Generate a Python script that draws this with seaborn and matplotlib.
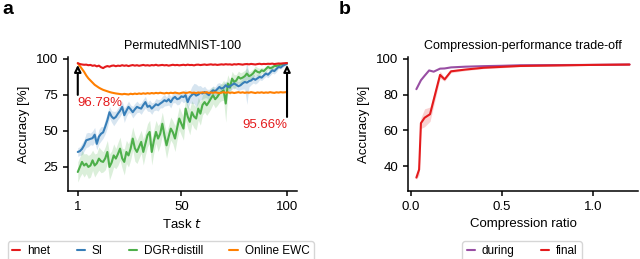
import numpy as np
import pandas as pd
import matplotlib.pyplot as plt
import seaborn as sns

sns.set_style('ticks')
plt.rcParams['font.family'] = ['Liberation Sans', 'DejaVu Sans']
plt.rcParams.update({'font.size': 9, 'axes.linewidth': 1.1,
                     'xtick.labelsize': 9.5, 'ytick.labelsize': 9.5,
                     'xtick.major.width': 1.1, 'ytick.major.width': 1.1,
                     'xtick.major.size': 3.5, 'ytick.major.size': 3.5,
                     'xtick.color': 'black', 'ytick.color': 'black',
                     'axes.edgecolor': 'black', 'text.color': 'black',
                     'axes.labelcolor': 'black'})

# --- panel a: PermutedMNIST-100 ---
tasks = np.arange(1, 101)

hnet = [97.0, 96.4, 96.1, 95.9, 96.0, 95.6, 95.8, 95.2, 95.5, 94.8,
        95.3, 94.2, 93.6, 94.5, 95.0, 94.6, 95.2, 95.4, 94.9, 95.3,
        95.1, 95.6, 95.2, 95.5, 95.0, 95.4, 95.7, 95.3, 95.6, 95.2,
        95.5, 95.8, 95.4, 95.6, 95.3, 95.7, 95.5, 95.9, 95.4, 95.6,
        95.8, 95.5, 95.7, 95.3, 95.6, 95.9, 95.6, 95.8, 95.5, 95.7,
        95.9, 95.6, 96.0, 95.7, 95.8, 95.5, 95.9, 96.0, 95.7, 95.9,
        96.1, 95.8, 96.0, 96.2, 95.9, 96.1, 95.8, 96.0, 96.2, 96.0,
        96.3, 96.1, 96.2, 95.9, 96.3, 96.1, 96.4, 96.2, 96.0, 96.3,
        96.4, 96.2, 96.5, 96.3, 96.1, 96.4, 96.6, 96.3, 96.5, 96.4,
        96.6, 96.5, 96.7, 96.4, 96.6, 96.8, 96.7, 96.9, 97.0, 97.1]

si = [35.4, 36.0, 37.5, 40.0, 43.5, 44.0, 44.5, 45.0, 47.4, 41.0,
      46.0, 48.0, 49.0, 53.0, 57.4, 63.0, 60.0, 58.6, 59.7, 62.0,
      64.0, 66.7, 60.9, 64.0, 66.7, 65.0, 63.0, 65.0, 66.7, 66.0,
      65.5, 68.0, 70.0, 66.7, 67.5, 65.5, 67.0, 68.5, 67.8, 69.0,
      70.0, 71.3, 70.5, 72.0, 70.0, 72.5, 73.6, 72.0, 72.5, 74.0,
      73.5, 74.8, 70.0, 73.5, 75.0, 76.0, 74.5, 75.2, 76.5, 76.0,
      77.0, 76.0, 74.8, 77.0, 78.2, 77.5, 79.0, 80.5, 79.4, 80.0,
      81.7, 80.5, 81.0, 82.0, 82.9, 82.0, 81.0, 81.7, 83.0, 84.0,
      83.5, 84.5, 85.0, 86.3, 85.5, 86.5, 87.5, 87.0, 88.5, 89.8,
      89.0, 90.5, 92.1, 91.5, 93.0, 94.4, 94.0, 95.2, 96.0, 96.7]

si_sd = [3, 3, 4, 4, 5, 5, 4, 5, 5, 4,
         5, 5, 4, 5, 5, 4, 4, 5, 4, 4,
         4, 4, 5, 4, 4, 3, 4, 4, 4, 3,
         4, 4, 4, 3, 4, 4, 3, 4, 4, 3,
         4, 4, 3, 4, 4, 3, 4, 4, 4, 3,
         4, 4, 5, 4, 6, 7, 8, 6, 5, 4,
         4, 3, 4, 3, 3, 3, 4, 3, 3, 3,
         3, 3, 3, 3, 3, 3, 3, 3, 4, 5,
         15, 4, 3, 3, 3, 3, 2, 2, 2, 2,
         2, 2, 2, 2, 2, 1, 1, 1, 1, 1]

dgr = [21.5, 25.0, 28.5, 26.0, 27.3, 25.0, 26.0, 29.6, 26.0, 27.5,
       30.8, 29.0, 28.5, 31.0, 35.4, 25.0, 28.0, 33.0, 30.8, 34.0,
       37.7, 31.0, 28.5, 35.4, 33.0, 37.7, 44.7, 38.0, 35.4, 39.0,
       42.4, 35.4, 41.2, 47.0, 49.3, 35.4, 43.0, 49.3, 44.7, 48.0,
       55.0, 47.0, 40.0, 46.0, 51.6, 49.0, 44.7, 52.0, 58.6, 55.0,
       51.6, 65.5, 60.0, 56.3, 63.0, 60.0, 58.6, 65.5, 62.0, 68.0,
       70.0, 67.8, 70.0, 72.5, 74.8, 72.0, 73.6, 75.9, 77.0, 78.2,
       69.0, 82.9, 80.0, 86.3, 84.0, 85.0, 87.5, 86.3, 87.0, 88.0,
       89.8, 88.0, 88.7, 90.0, 92.1, 91.0, 90.5, 92.1, 91.5, 93.0,
       94.4, 93.5, 94.0, 95.0, 95.1, 95.5, 96.0, 96.2, 96.5, 96.9]

dgr_sd = [7, 7, 8, 8, 7, 8, 8, 7, 8, 7,
          8, 8, 7, 8, 8, 9, 8, 8, 7, 8,
          8, 7, 9, 8, 8, 8, 8, 9, 8, 8,
          8, 9, 8, 8, 8, 9, 8, 8, 9, 8,
          8, 8, 9, 8, 8, 8, 9, 8, 8, 8,
          8, 8, 8, 9, 8, 8, 8, 8, 8, 7,
          7, 7, 7, 7, 6, 6, 6, 6, 6, 7,
          13, 6, 5, 5, 5, 4, 4, 4, 4, 4,
          4, 3, 3, 3, 3, 3, 3, 2, 2, 2,
          2, 2, 2, 2, 2, 1, 1, 1, 1, 1]

ewc = [97.0, 95.0, 93.0, 91.0, 88.5, 86.5, 85.0, 83.5, 82.0, 81.0,
       80.0, 79.2, 78.5, 78.0, 77.5, 77.0, 76.6, 76.3, 76.0, 75.8,
       75.6, 75.4, 75.7, 75.5, 75.3, 75.8, 75.5, 75.9, 75.6, 76.0,
       75.7, 76.1, 75.8, 76.2, 75.9, 76.3, 76.0, 76.4, 76.1, 76.5,
       76.2, 76.0, 76.4, 76.1, 76.5, 76.2, 76.6, 76.3, 76.0, 76.4,
       76.7, 76.3, 76.5, 76.9, 76.4, 76.6, 76.2, 76.7, 76.4, 76.8,
       76.5, 76.9, 76.3, 76.7, 76.4, 76.8, 76.5, 76.2, 76.6, 76.9,
       76.5, 76.8, 76.4, 76.7, 76.3, 76.6, 76.9, 76.5, 76.8, 76.4,
       76.7, 76.5, 76.9, 76.6, 76.3, 76.7, 76.5, 76.8, 76.4, 76.7,
       76.5, 76.9, 76.6, 76.4, 76.8, 76.6, 76.9, 76.7, 76.8, 77.0]

# --- panel b: compression-performance trade-off ---
ratio_during = [0.03, 0.045, 0.055, 0.075, 0.1, 0.125, 0.16, 0.185, 0.22,
                0.3, 0.4, 0.5, 0.6, 0.8, 1.0, 1.2]
acc_during = [83.0, 86.0, 88.0, 90.5, 93.5, 92.8, 94.5, 94.6, 95.2,
              95.6, 95.9, 96.1, 96.4, 96.5, 96.6, 96.8]

ratio_final = [0.03, 0.045, 0.055, 0.075, 0.105, 0.16, 0.185, 0.22,
               0.3, 0.4, 0.5, 0.6, 0.8, 1.0, 1.2]
acc_final = [33.5, 38.0, 64.0, 67.0, 69.0, 91.0, 88.5, 93.0,
             94.0, 95.0, 95.5, 96.0, 96.3, 96.6, 96.8]
final_sd = [1.0, 3.0, 3.0, 5.0, 4.0, 2.0, 1.0, 0.8,
            0.6, 0.5, 0.5, 0.4, 0.4, 0.3, 0.3]

pal = sns.color_palette('Set1')
c_red, c_blue, c_green, c_purple, c_orange = pal[0], pal[1], pal[2], pal[3], pal[4]

fig = plt.figure(figsize=(6.4, 2.59), dpi=100)
ax1 = fig.add_axes([0.106, 0.2625, 0.358, 0.518])
ax2 = fig.add_axes([0.6375, 0.2625, 0.3595, 0.518])

lw = 1.5
# bands
ax1.fill_between(tasks, np.array(si) - si_sd, np.array(si) + si_sd,
                 color=c_blue, alpha=0.2, lw=0)
ax1.fill_between(tasks, np.array(dgr) - dgr_sd, np.array(dgr) + dgr_sd,
                 color=c_green, alpha=0.2, lw=0)
sns.lineplot(x=tasks, y=dgr, ax=ax1, color=c_green, lw=lw, label='DGR+distill', zorder=3)
sns.lineplot(x=tasks, y=si, ax=ax1, color=c_blue, lw=lw, label='SI', zorder=4)
sns.lineplot(x=tasks, y=ewc, ax=ax1, color=c_orange, lw=lw, label='Online EWC', zorder=5)
sns.lineplot(x=tasks, y=hnet, ax=ax1, color=c_red, lw=lw, label='hnet', zorder=6)

arrow_style = '-|>,head_length=0.45,head_width=0.22'
ax1.annotate('', xy=(1, 95.8), xytext=(1, 75),
             arrowprops=dict(arrowstyle=arrow_style, fc='white', ec='black',
                             lw=1.5, shrinkA=0, shrinkB=0), zorder=8)
ax1.annotate('', xy=(100, 95.8), xytext=(100, 59.7),
             arrowprops=dict(arrowstyle=arrow_style, fc='white', ec='black',
                             lw=1.5, shrinkA=0, shrinkB=0), zorder=8)
ax1.text(1, 69.5, '96.78%', color=c_red, ha='left', va='center', fontsize=9.5)
ax1.text(100, 54.2, '95.66%', color=c_red, ha='right', va='center', fontsize=9.5)

ax1.set_xlim(-3.7, 104.7)
ax1.set_ylim(8.3, 101.4)
ax1.set_xticks([1, 50, 100])
ax1.set_yticks([25, 50, 75, 100])
ax1.set_xlabel('Task $t$', fontsize=9.5)
ax1.set_ylabel('Accuracy [%]', fontsize=9.5)
ax1.set_title('PermutedMNIST-100', fontsize=9)
h, l = ax1.get_legend_handles_labels()
order = [3, 1, 0, 2]
ax1.legend([h[i] for i in order], [l[i] for i in order], ncol=4,
           loc='upper center', bbox_to_anchor=(0.406, -0.33), fontsize=8.5,
           handlelength=0.7, handletextpad=0.6, columnspacing=2.2,
           borderpad=0.35, frameon=True, edgecolor='#cccccc', fancybox=True)

# panel b
ax2.fill_between(ratio_final, np.array(acc_final) - final_sd,
                 np.array(acc_final) + final_sd, color=c_red, alpha=0.2, lw=0)
sns.lineplot(x=ratio_during, y=acc_during, ax=ax2, color=c_purple, lw=lw, label='during')
sns.lineplot(x=ratio_final, y=acc_final, ax=ax2, color=c_red, lw=lw, label='final')
ax2.set_xlim(-0.016, 1.247)
ax2.set_ylim(26, 101.1)
ax2.set_xticks([0.0, 0.5, 1.0])
ax2.set_yticks([40, 60, 80, 100])
ax2.set_xlabel('Compression ratio', fontsize=9.5)
ax2.set_ylabel('Accuracy [%]', fontsize=9.5)
ax2.set_title('Compression-performance trade-off', fontsize=9)
ax2.legend(ncol=2, loc='upper center', bbox_to_anchor=(0.496, -0.33), fontsize=8.5,
           handlelength=0.7, handletextpad=0.6, columnspacing=2.2,
           borderpad=0.35, frameon=True, edgecolor='#cccccc', fancybox=True)

for ax in (ax1, ax2):
    sns.despine(ax=ax)

fig.text(0.004, 0.995, 'a', fontsize=14, fontweight='bold', va='top', ha='left')
fig.text(0.530, 0.995, 'b', fontsize=14, fontweight='bold', va='top', ha='left')

fig.savefig('out.png', dpi=100)
